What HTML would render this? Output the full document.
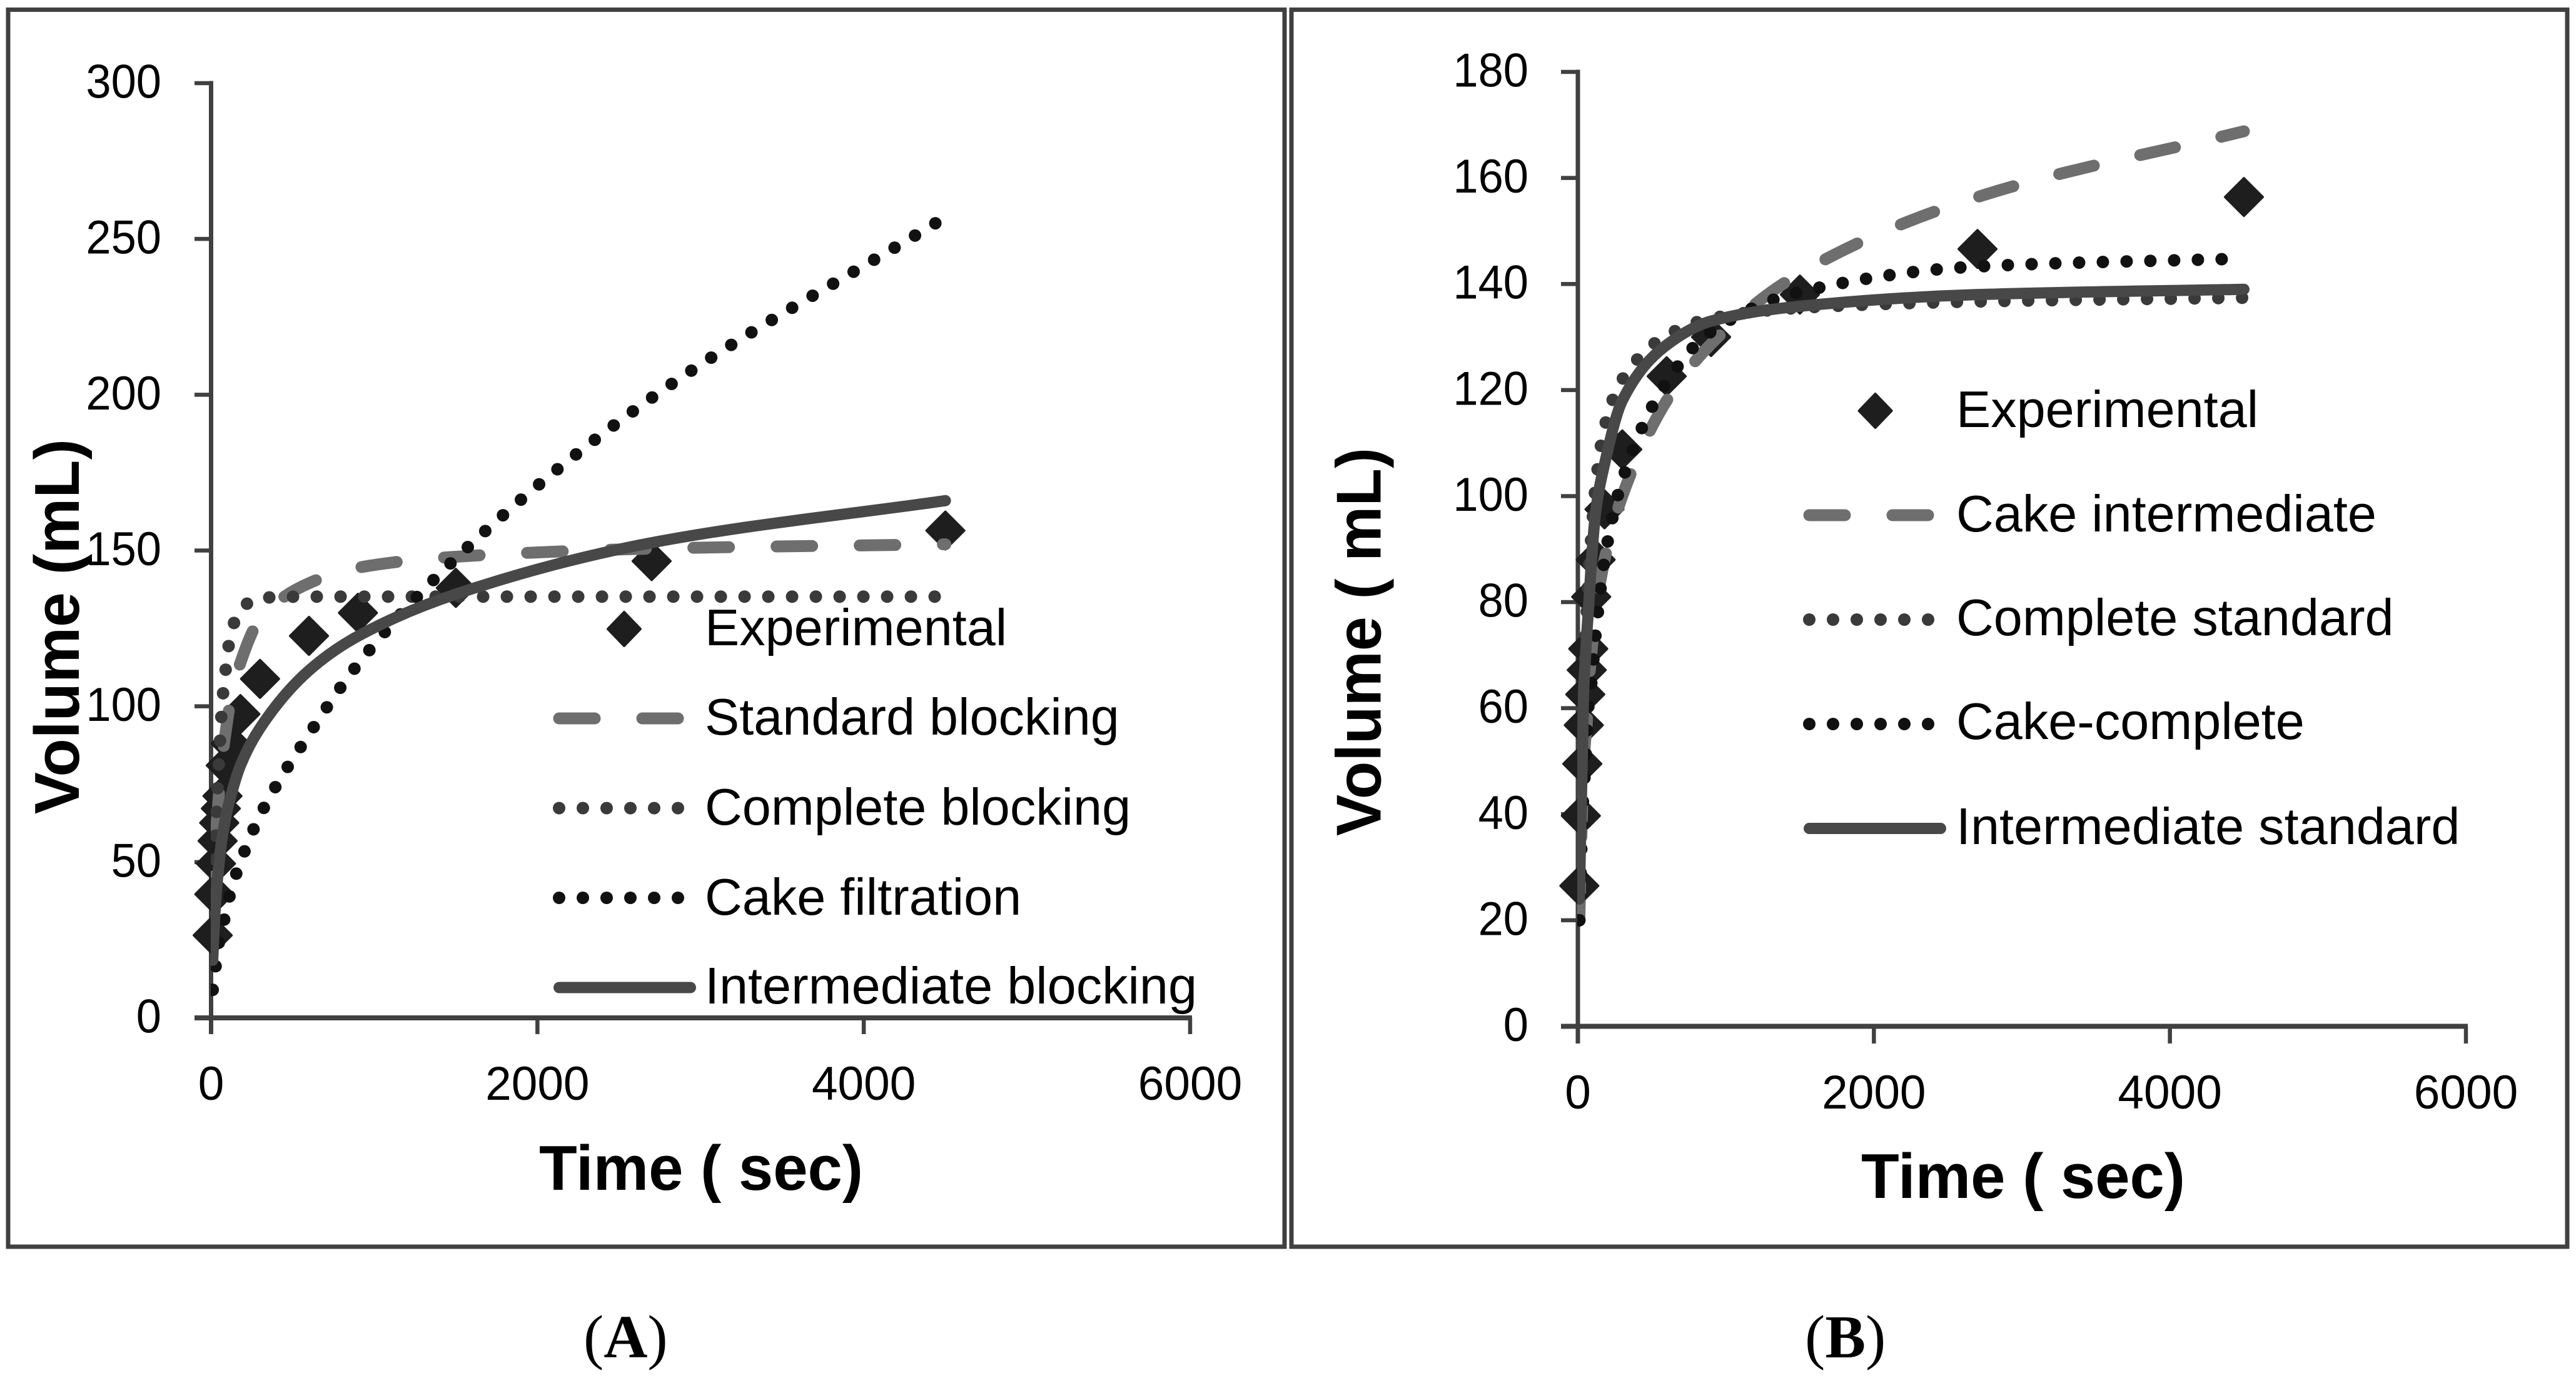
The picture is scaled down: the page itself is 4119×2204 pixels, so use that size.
<!DOCTYPE html>
<html lang="en">
<head>
<meta charset="utf-8">
<title>Volume versus time fits</title>
<style>
html,body{margin:0;padding:0;background:#fff;width:4119px;height:2204px;overflow:hidden}
svg{display:block}
text{font-family:"Liberation Sans",sans-serif;fill:#000}
.legend-text{font-size:82.8px}
.axis-title{font-size:101px;font-weight:700}
.panel-label{font-family:"Liberation Serif",serif;font-size:97px;font-weight:400}
.panel-label tspan{font-weight:700}
.tick-label{font-size:76px}
</style>
</head>
<body>
<svg id="figure" xmlns="http://www.w3.org/2000/svg" width="4119" height="2204" viewBox="0 0 4119 2204">
  <defs>
    <clipPath id="clip-a"><rect x="337" y="0" width="1700" height="1624"/></clipPath>
    <clipPath id="clip-b"><rect x="2522" y="0" width="1560" height="1637"/></clipPath>
  </defs>
  <rect x="0" y="0" width="4119" height="2204" fill="#fff"/>
  <rect x="13" y="15.5" width="2041" height="1978.5" fill="none" stroke="#404040" stroke-width="7"/>
  <rect x="2065" y="15.5" width="2040" height="1978.5" fill="none" stroke="#404040" stroke-width="7"/>

  <g id="panel-a"></g>
  <g id="panel-b"></g>

  <text class="axis-title" transform="translate(126,1302) rotate(-90)" textLength="600" lengthAdjust="spacingAndGlyphs">Volume (mL)</text>
  <text class="axis-title" x="862" y="1903" textLength="518" lengthAdjust="spacingAndGlyphs" xml:space="preserve">Time ( sec)</text>
  <text class="panel-label" x="933" y="2171">(<tspan>A</tspan>)</text>

  <text class="axis-title" transform="translate(2207.5,1337) rotate(-90)" textLength="621" lengthAdjust="spacingAndGlyphs" xml:space="preserve">Volume ( mL)</text>
  <text class="axis-title" x="2976" y="1916" textLength="518" lengthAdjust="spacingAndGlyphs" xml:space="preserve">Time ( sec)</text>
  <text class="panel-label" x="2886" y="2171">(<tspan>B</tspan>)</text>

  <g>
    <path d="M998 979 L1024 1006 L998 1033 L972 1006 Z" fill="#1e1e1e" stroke="#1e1e1e" stroke-width="4" stroke-linejoin="round"/>
    <text class="legend-text" x="1127" y="1032">Experimental</text>
    <line x1="894" y1="1149" x2="1084" y2="1149" stroke="#6e6e6e" stroke-width="19" stroke-linecap="round" stroke-dasharray="57 76"/>
    <text class="legend-text" x="1127" y="1175">Standard blocking</text>
    <line x1="894" y1="1292.5" x2="1085" y2="1292.5" stroke="#3a3a3a" stroke-width="20" stroke-linecap="round" stroke-dasharray="0 38"/>
    <text class="legend-text" x="1127" y="1319">Complete blocking</text>
    <line x1="894" y1="1436" x2="1085" y2="1436" stroke="#111" stroke-width="20" stroke-linecap="round" stroke-dasharray="0 38"/>
    <text class="legend-text" x="1127" y="1463">Cake filtration</text>
    <line x1="894" y1="1579.5" x2="1104" y2="1579.5" stroke="#484848" stroke-width="18" stroke-linecap="round"/>
    <text class="legend-text" x="1127" y="1605">Intermediate blocking</text>
  </g>

  <g>
    <path d="M2998.6 630 L3024.6 657 L2998.6 684 L2972.6 657 Z" fill="#1e1e1e" stroke="#1e1e1e" stroke-width="4" stroke-linejoin="round"/>
    <text class="legend-text" x="3128" y="683">Experimental</text>
    <line x1="2893" y1="824" x2="3084" y2="824" stroke="#6e6e6e" stroke-width="19" stroke-linecap="round" stroke-dasharray="57 76"/>
    <text class="legend-text" x="3128" y="850">Cake intermediate</text>
    <line x1="2893" y1="991" x2="3084" y2="991" stroke="#3a3a3a" stroke-width="20" stroke-linecap="round" stroke-dasharray="0 38"/>
    <text class="legend-text" x="3128" y="1016">Complete standard</text>
    <line x1="2893" y1="1158" x2="3084" y2="1158" stroke="#111" stroke-width="20" stroke-linecap="round" stroke-dasharray="0 38"/>
    <text class="legend-text" x="3128" y="1182">Cake-complete</text>
    <line x1="2893" y1="1325" x2="3103" y2="1325" stroke="#484848" stroke-width="18" stroke-linecap="round"/>
    <text class="legend-text" x="3128" y="1350">Intermediate standard</text>
  </g>
</svg>
<script>
// Shared sampling times (sec) and measured volumes (mL)
var times = [10,20,30,40,50,60,70,90,120,180,300,600,900,1500,2700,4500];
var experimental = [26.5,39.7,49.5,56.8,62.6,67.2,71.2,81,88,97.5,108.8,122.6,130,138,146.6,156.4];

// Panel A series
var standardBlocking = [34,48,60,66,73,78,84,92,102,114,128,139.5,144.5,148,150.6,152];
var completeBlocking = [28,48,62,74,84,94,102,112,123,131,134.8,135.2,135.2,135.2,135.2,135.2];
var cakeFiltration = [9,13,17.5,21,25,27.5,29.5,33.5,40.5,50,65,91,113.5,147.5,199,257];
var intermediateBlocking = [18.5,30,39,45,50,55,58.5,64.5,71,81,93,111.5,122.5,136,152.5,166];

// Panel B series
var cakeIntermediate = [20,32,42,50,54,57,63,70,78,88,100,118,128.7,142,156.4,168.8];
var completeStandard = [20,38,50,60,70,78,84,92,102,113,122,130.3,133.5,135.5,136.7,137.4];
var cakeComplete = [20,30,40,45,49,55,60,64.5,74,88,103,121.5,131,138.5,143.3,144.8];
var intermediateStandard = [24,38,51,64,69,74,78,87,97,106,118,128.5,133,135.8,138,139];

// Tick labels
var xTicks = [0,2000,4000,6000];
var yTicksA = [0,50,100,150,200,250,300];
var yTicksB = [0,20,40,60,80,100,120,140,160,180];

var SVG_NS = 'http://www.w3.org/2000/svg';

function mk(parent, tag, attrs) {
  var el = document.createElementNS(SVG_NS, tag);
  for (var k in attrs) { el.setAttribute(k, attrs[k]); }
  parent.appendChild(el);
  return el;
}

// Monotone cubic through the pixel points
function smoothPath(px, py) {
  var n = px.length, d = [], m = [], i;
  for (i = 0; i < n - 1; i++) { d.push((py[i + 1] - py[i]) / (px[i + 1] - px[i])); }
  m.push(d[0]);
  for (i = 1; i < n - 1; i++) {
    if (d[i - 1] * d[i] <= 0) { m.push(0); }
    else {
      var h0 = px[i] - px[i - 1], h1 = px[i + 1] - px[i];
      m.push((3 * (h0 + h1)) / ((2 * h1 + h0) / d[i - 1] + (h1 + 2 * h0) / d[i]));
    }
  }
  m.push(d[n - 2]);
  var s = 'M' + px[0].toFixed(2) + ' ' + py[0].toFixed(2);
  for (i = 0; i < n - 1; i++) {
    var h = (px[i + 1] - px[i]) / 3;
    s += ' C' + (px[i] + h).toFixed(2) + ' ' + (py[i] + m[i] * h).toFixed(2) + ' ' +
      (px[i + 1] - h).toFixed(2) + ' ' + (py[i + 1] - m[i + 1] * h).toFixed(2) + ' ' +
      px[i + 1].toFixed(2) + ' ' + py[i + 1].toFixed(2);
  }
  return s;
}

function drawAxes(g, xScale, yScale, xVals, yVals, opts) {
  var axisColor = '#404040';
  var xZero = xScale(0), yZero = yScale(0);
  var yAxis = mk(g, 'line', {x1: xZero, y1: yScale(yVals[yVals.length - 1]) - 3.5, x2: xZero, y2: opts.tickBottom, stroke: axisColor, 'stroke-width': 7});
  
  
  var xAxis = mk(g, 'line', {x1: opts.tickLeft, y1: yZero, x2: xScale(xVals[xVals.length - 1]) + 3, y2: yZero, stroke: axisColor, 'stroke-width': 8});
  
  
  yVals.forEach(function (v) {
    var y = yScale(v);
    var tick = mk(g, 'line', {x1: opts.tickLeft, y1: y, x2: xZero, y2: y, stroke: axisColor, 'stroke-width': 6.5});
    
    
    var label = String(v);
    var t = mk(g, 'text', {x: opts.yLabelRight, y: y + 23.5, 'text-anchor': 'end', 'class': 'tick-label', textLength: label.length * 40.2, lengthAdjust: 'spacingAndGlyphs'});
    t.textContent = label;
    
    
  });
  xVals.forEach(function (v) {
    var x = xScale(v);
    if (v !== 0) {
      var tick = mk(g, 'line', {x1: x, y1: yZero, x2: x, y2: opts.tickBottom, stroke: axisColor, 'stroke-width': 6.5});
      
      
    }
    var label = String(v);
    var t = mk(g, 'text', {x: x, y: opts.xLabelBaseline, 'text-anchor': 'middle', 'class': 'tick-label', textLength: label.length * 41.6, lengthAdjust: 'spacingAndGlyphs'});
    t.textContent = label;
    
    
  });
}

function drawMarkers(g, xScale, yScale, ts, vs, half) {
  ts.forEach(function (t, i) {
    var x = xScale(t), y = yScale(vs[i]);
    var d = 'M' + x + ' ' + (y - half) + ' L' + (x + half) + ' ' + y + ' L' + x + ' ' + (y + half) + ' L' + (x - half) + ' ' + y + ' Z';
    var p = mk(g, 'path', {d: d, fill: '#1e1e1e', stroke: '#1e1e1e', 'stroke-width': 4, 'stroke-linejoin': 'round'});
    
    
  });
}

function drawCurve(g, xScale, yScale, ts, vs, style, clip, name) {
  var attrs = {
    d: smoothPath(ts.map(xScale), vs.map(yScale)),
    fill: 'none',
    stroke: style.color,
    'stroke-width': style.width,
    'stroke-linecap': 'round',
    'stroke-linejoin': 'round',
    'clip-path': 'url(#' + clip + ')'
  };
  if (style.dash) { attrs['stroke-dasharray'] = style.dash; }
  var p = mk(g, 'path', attrs);
  
  
}

var dashStyle = {color: '#6e6e6e', width: 19, dash: '57 76'};
var greyDotStyle = {color: '#3a3a3a', width: 20, dash: '0 38'};
var blackDotStyle = {color: '#111111', width: 20, dash: '0 38'};
var solidStyle = {color: '#484848', width: 18};

// Panel A
(function () {
  var g = document.getElementById('panel-a');
  var xScale = function (v) { return 337.5 + v * (1903 - 337.5) / 6000; };
  var yScale = function (v) { return 1628 - v * (1628 - 133) / 300; };
  drawAxes(g, xScale, yScale, xTicks, yTicksA, {tickLeft: 311, tickBottom: 1654, yLabelRight: 258, xLabelBaseline: 1759});
  drawMarkers(g, xScale, yScale, times, experimental, 30);
  drawCurve(g, xScale, yScale, times, standardBlocking, dashStyle, 'clip-a', 'series-standard-blocking');
  drawCurve(g, xScale, yScale, times, completeBlocking, greyDotStyle, 'clip-a', 'series-complete-blocking');
  drawCurve(g, xScale, yScale, times, cakeFiltration, blackDotStyle, 'clip-a', 'series-cake-filtration');
  drawCurve(g, xScale, yScale, times, intermediateBlocking, solidStyle, 'clip-a', 'series-intermediate-blocking');
})();

// Panel B
(function () {
  var g = document.getElementById('panel-b');
  var xScale = function (v) { return 2523 + v * (3943 - 2523) / 6000; };
  var yScale = function (v) { return 1641.5 - v * (1641.5 - 115) / 180; };
  drawAxes(g, xScale, yScale, xTicks, yTicksB, {tickLeft: 2496, tickBottom: 1669, yLabelRight: 2444, xLabelBaseline: 1773});
  drawMarkers(g, xScale, yScale, times, experimental, 30);
  drawCurve(g, xScale, yScale, times, cakeIntermediate, dashStyle, 'clip-b', 'series-cake-intermediate');
  drawCurve(g, xScale, yScale, times, completeStandard, greyDotStyle, 'clip-b', 'series-complete-standard');
  drawCurve(g, xScale, yScale, times, cakeComplete, blackDotStyle, 'clip-b', 'series-cake-complete');
  drawCurve(g, xScale, yScale, times, intermediateStandard, solidStyle, 'clip-b', 'series-intermediate-standard');
})();
</script>
</body>
</html>
